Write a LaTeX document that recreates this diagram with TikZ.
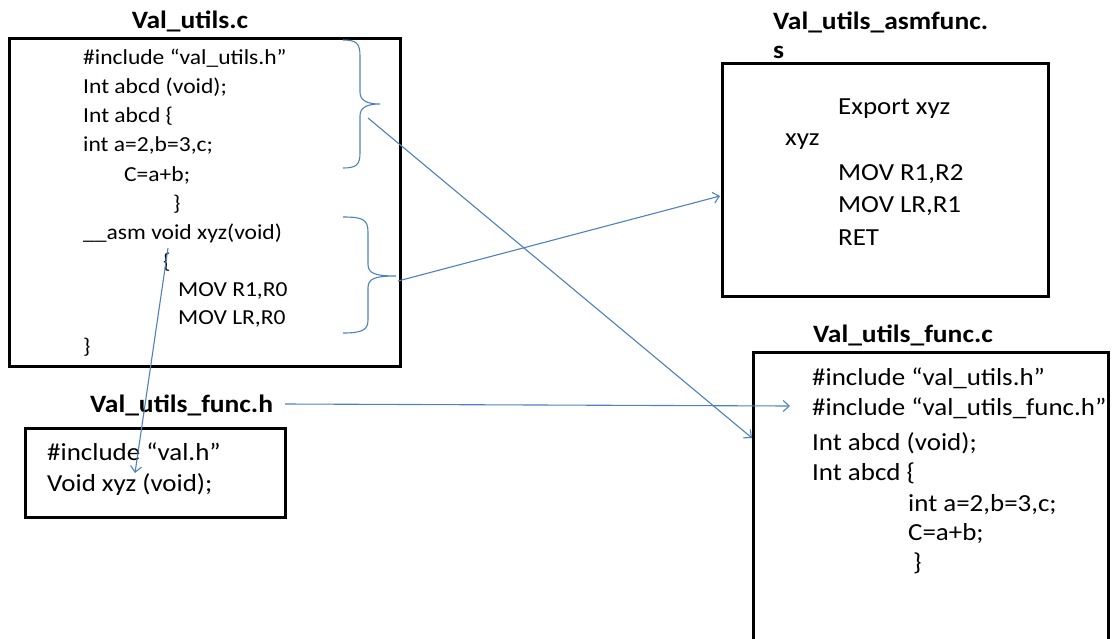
\documentclass[tikz,border=0pt]{standalone}
\usepackage{fontspec}
\setmainfont[FakeStretch=1.1]{Carlito}
\usetikzlibrary{arrows.meta}
\definecolor{linkblue}{RGB}{79,129,189}
\tikzset{
 code/.style={anchor=west, inner sep=0pt, font=\fontsize{24.5}{28}\selectfont},
 codesmall/.style={anchor=west, inner sep=0pt, font=\fontsize{21.4}{25}\selectfont},
 ttl/.style={anchor=west, inner sep=0pt, font=\bfseries\fontsize{25}{29}\selectfont},
 filebox/.style={draw=black, line width=3pt, inner sep=0pt},
 conn/.style={draw=linkblue, line width=1.1pt, -{Straight Barb[length=6pt,width=11pt]}},
 bracket/.style={draw=linkblue, line width=1.1pt},
}
\begin{document}
\begin{tikzpicture}[x=1pt,y=-1pt]
\useasboundingbox (0,0) rectangle (1112,638);

% ---------- Val_utils.c ----------
\node[ttl, anchor=center] (t1) at (190,21) {Val\_utils.c};
\node[filebox, minimum width=391pt, minimum height=328pt] (b1) at (205,202) {};
\node[codesmall] (a1) at (83,58) {\#include “val\_utils.h”};
\node[codesmall] (a2) at (83,87) {Int abcd (void);};
\node[codesmall] (a3) at (83,116) {Int abcd \{};
\node[codesmall] (a4) at (83,145) {int a=2,b=3,c;};
\node[codesmall] (a5) at (124,175) {C=a+b;};
\node[codesmall] (a6) at (173,204) {\}};
\node[codesmall] (a7) at (83,233) {\_\_asm void xyz(void)};
\node[codesmall] (a8) at (163,262) {\{};
\node[codesmall] (a9) at (178,291) {MOV R1,R0};
\node[codesmall] (a10) at (178,319) {MOV LR,R0};
\node[codesmall] (a11) at (83,347) {\}};

% braces
\draw[bracket] (343,40) .. controls (356,40) and (360,43) .. (360,56) -- (360,92)
  .. controls (360,100) and (366,104) .. (380,104)
  .. controls (366,104) and (360,108) .. (360,116) -- (360,153)
  .. controls (360,165) and (356,168) .. (343,168);
\coordinate (br1) at (368,118);
\draw[bracket] (343,217) .. controls (362,217) and (368,219) .. (368,232) -- (368,264)
  .. controls (368,273) and (374,276) .. (396,276)
  .. controls (374,276) and (368,279) .. (368,288) -- (368,320)
  .. controls (368,330) and (362,333) .. (343,333);
\coordinate (br2) at (398,281);
\coordinate (cb) at (168,248);

% ---------- Val_utils_asmfunc.s ----------
\node[ttl] (t2) at (773,22) {Val\_utils\_asmfunc.};
\node[ttl] (t2b) at (773,52) {s};
\node[filebox, minimum width=326pt, minimum height=233pt] (b2) at (885,179.5) {};
\node[code] (c1) at (838,109) {Export xyz};
\node[code] (c2) at (785,142) {xyz};
\node[code] (c3) at (838,174) {MOV R1,R2};
\node[code] (c4) at (838,206) {MOV LR,R1};
\node[code] (c5) at (838,238) {RET};
\coordinate (in2) at (720,196);

% ---------- Val_utils_func.c ----------
\node[ttl] (t3) at (813,335) {Val\_utils\_func.c};
\draw[black, line width=3pt] (753,645) -- (753,352) -- (1108,352) -- (1108,645);
\node[code] (d1) at (812,378) {\#include “val\_utils.h”};
\node[code] (d2) at (812,408) {\#include “val\_utils\_func.h”};
\node[code] (d3) at (812,443) {Int abcd (void);};
\node[code] (d4) at (812,473) {Int abcd \{};
\node[code] (d5) at (908,505) {int a=2,b=3,c;};
\node[code] (d6) at (908,534) {C=a+b;};
\node[code] (d7) at (913,563) {\}};
\coordinate (in3a) at (752,438);
\coordinate (in3b) at (790,406);

% ---------- Val_utils_func.h ----------
\node[ttl] (t4) at (90,405) {Val\_utils\_func.h};
\node[filebox, minimum width=260pt, minimum height=89pt] (b4) at (155,472.5) {};
\node[code] (e1) at (47,452) {\#include “val.h”};
\node[code] (e2) at (47,485) {Void xyz (void);};
\coordinate (in4) at (135,473);

% ---------- connectors ----------
\coordinate (t4r) at (285,404);
\draw[conn] (br1) -- (in3a);
\draw[conn] (br2) -- (in2);
\draw[conn] (cb) -- (in4);
\draw[conn] (t4r) -- (in3b);
\end{tikzpicture}
\end{document}
